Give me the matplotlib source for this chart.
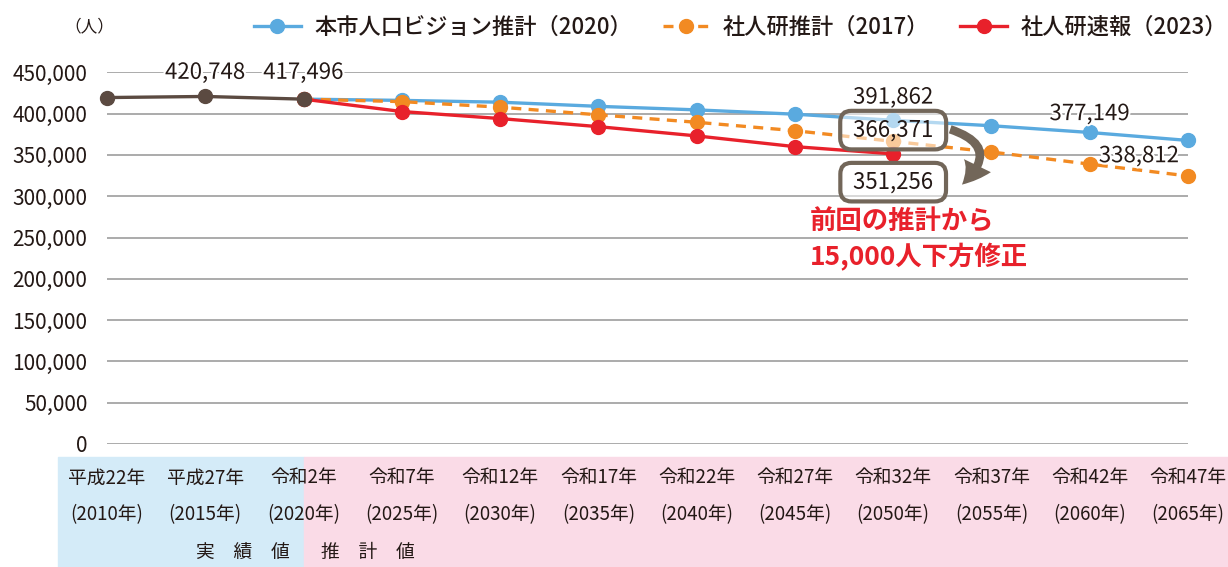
import matplotlib
matplotlib.use("Agg")
import matplotlib.pyplot as plt
import matplotlib.patheffects as pe
from matplotlib.patches import Rectangle, FancyArrowPatch
from matplotlib.transforms import blended_transform_factory

plt.rcParams['font.family'] = ['Noto Sans CJK JP', 'DejaVu Sans']

# data
wareki = ['平成22年', '平成27年', '令和2年', '令和7年', '令和12年', '令和17年',
          '令和22年', '令和27年', '令和32年', '令和37年', '令和42年', '令和47年']
seireki = ['(2010年)', '(2015年)', '(2020年)', '(2025年)', '(2030年)', '(2035年)',
           '(2040年)', '(2045年)', '(2050年)', '(2055年)', '(2060年)', '(2065年)']
actual = [419429, 420748, 417496]                     # 2010-2020
vision2020 = [417496, 416000, 413800, 408800, 404500, 399300,
              391862, 385300, 377149, 367500]          # 2020-2065
ipss2017 = [417496, 414500, 407800, 398500, 389500, 379300,
            366371, 353500, 338812, 324500]            # 2020-2065
ipss2023 = [417496, 402500, 394000, 384200, 373000, 360000, 351256]  # 2020-2050

BLUE = '#5aaadf'
ORANGE = '#f28a22'
RED = '#e8212b'
BROWN = '#5b4a41'
BOXC = '#726659'
TXT = '#231815'

fig = plt.figure(figsize=(12.28, 5.67), dpi=100)
W, H = 1228, 567
ax = fig.add_axes([107 / W, (H - 444) / H, (1188 - 107) / W, (444 - 72.3) / H])

# background bands under the axis
fig.patches.append(Rectangle((58 / W, 0), (304 - 58) / W, (H - 457) / H,
                             transform=fig.transFigure, color='#d4ebf8', zorder=-2))
fig.patches.append(Rectangle((304 / W, 0), 1 - 304 / W, (H - 457) / H,
                             transform=fig.transFigure, color='#fadbe7', zorder=-2))

lw, ms = 2.4, 10
x_fc = list(range(2, 12))
ax.plot(x_fc, vision2020, color=BLUE, lw=lw, marker='o', ms=ms, clip_on=False,
        zorder=3, label='本市人口ビジョン推計（2020）')
ax.plot(x_fc, ipss2017, color=ORANGE, lw=lw, ls=(0, (3, 2.2)), marker='o', ms=ms,
        clip_on=False, zorder=4, label='社人研推計（2017）')
ax.plot(range(2, 2 + len(ipss2023)), ipss2023, color=RED, lw=lw, marker='o', ms=ms,
        clip_on=False, zorder=5, label='社人研速報（2023）')
ax.plot(range(len(actual)), actual, color=BROWN, lw=lw, marker='o', ms=ms,
        clip_on=False, zorder=6)

ax.set_xlim(0, 11)
ax.set_ylim(0, 450000)
ax.set_yticks(range(0, 450001, 50000))
ax.set_yticklabels([f'{v:,}' for v in range(0, 450001, 50000)], fontsize=15, color=TXT)
ax.tick_params(axis='y', length=0, pad=14)
ax.set_xticks([])
for s in ax.spines.values():
    s.set_visible(False)
ax.grid(axis='y', color='#a5a5a5', lw=1.3)
ax.set_axisbelow(True)

fig.text(89 / W, 1 - 27 / H, '（人）', ha='center', va='center', fontsize=12, color=TXT)

# category labels in the band
tr = blended_transform_factory(ax.transData, fig.transFigure)
for i in range(len(wareki)):
    ax.text(i, 1 - 478 / H, wareki[i], transform=tr, ha='center', va='center',
            fontsize=13.5, color=TXT)
    ax.text(i, 1 - 515 / H, seireki[i], transform=tr, ha='center', va='center',
            fontsize=13.5, color=TXT)
ax.text(1.38, 1 - 552 / H, '実　績　値', transform=tr, ha='center', va='center',
        fontsize=13.5, color=TXT)
ax.text(2.65, 1 - 552 / H, '推　計　値', transform=tr, ha='center', va='center',
        fontsize=13.5, color=TXT)

# value labels
halo = [pe.withStroke(linewidth=3, foreground='white')]
lab = dict(ha='center', va='center', fontsize=16, color=TXT, path_effects=halo, zorder=8)
ax.text(1, 450000, f'{actual[1]:,}', **lab)
ax.text(2, 450000, f'{actual[2]:,}', **lab)
ax.text(8, 420000, f'{vision2020[6]:,}', **lab)
ax.text(10, 400000, f'{vision2020[8]:,}', **lab)
ax.text(10.5, 349000, f'{ipss2017[8]:,}', **lab)

boxprops = dict(boxstyle='round,pad=0.35,rounding_size=0.5', fc=(1, 1, 1, 0.55),
                ec=BOXC, lw=3)
ax.text(8, 380000, ' ' + f'{ipss2017[6]:,}' + ' ', ha='center', va='center', fontsize=16,
        color=TXT, bbox=boxprops, zorder=9)
ax.text(8, 317000, ' ' + f'{ipss2023[6]:,}' + ' ', ha='center', va='center', fontsize=16,
        color=TXT, bbox=boxprops, zorder=9)

# curved arrow between the two boxes
arrow = FancyArrowPatch((8.58, 381000), (8.70, 314000), connectionstyle='arc3,rad=-0.85',
                        arrowstyle='simple,head_length=1.1,head_width=1.35,tail_width=0.38',
                        mutation_scale=16, shrinkA=0, shrinkB=0, color=BOXC, lw=0,
                        zorder=10)
ax.add_patch(arrow)

ax.text(7.155, 269000, '前回の推計から', ha='left', va='center', fontsize=19,
        fontweight='bold', color=RED)
ax.text(7.155, 226000, '15,000人下方修正', ha='left', va='center', fontsize=19,
        fontweight='bold', color=RED)

fig.legend(loc='center right', bbox_to_anchor=(1247 / W, 1 - 27 / H), ncol=3,
           frameon=False, handlelength=2.1, columnspacing=1.4,
           handletextpad=0.6, labelcolor=TXT, prop={'weight': 'medium', 'size': 16})

fig.savefig('out.png', dpi=100)
